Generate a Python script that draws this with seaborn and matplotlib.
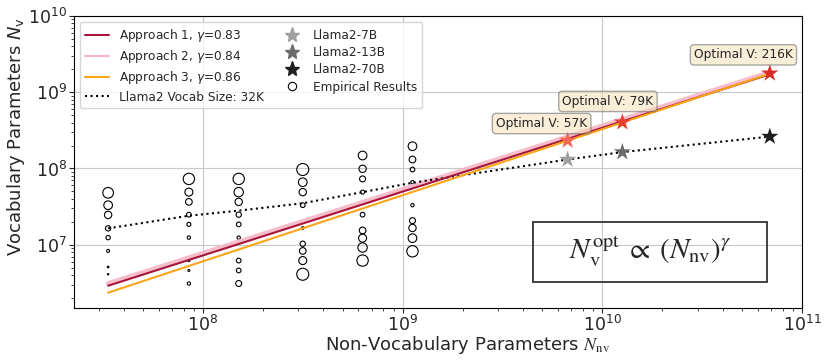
import numpy as np
import pandas as pd
import matplotlib
matplotlib.use("Agg")
import matplotlib.pyplot as plt
from matplotlib.lines import Line2D
from matplotlib.patches import Rectangle
import seaborn as sns

# ---------------- data ----------------
emp_cols_x = [3.35e7, 8.5e7, 1.51e8, 3.16e8, 6.3e8, 1.12e9]
emp_y_1 = [4.8e7, 3.3e7, 2.46e7, 1.64e7, 1.24e7, 8.3e6, 5.1e6, 4.1e6]
emp_r_1 = [16, 13, 11, 8, 6.5, 4.5, 2.5, 2]
emp_y_2 = [7.3e7, 4.9e7, 3.65e7, 2.48e7, 1.85e7, 1.24e7, 6.2e6, 4.6e6, 3.1e6]
emp_r_2 = [17, 12, 10, 7, 6, 5, 3, 3, 5]
emp_y_3 = [7.3e7, 4.9e7, 3.65e7, 2.48e7, 1.85e7, 1.24e7, 6.2e6, 4.6e6, 3.1e6]
emp_r_3 = [17, 14, 11, 8, 7, 5, 7, 7, 9]
emp_y_4 = [9.7e7, 6.6e7, 4.9e7, 3.3e7, 1.66e7, 1.03e7, 8.3e6, 6.2e6, 4.1e6]
emp_r_4 = [18, 13, 11, 7, 4, 8, 10, 12, 18]
emp_y_5 = [1.48e8, 9.9e7, 7.3e7, 4.9e7, 2.48e7, 1.54e7, 1.22e7, 9.2e6, 6.2e6]
emp_r_5 = [13, 11, 9, 6, 7, 10, 12, 14, 17]
emp_y_6 = [1.96e8, 1.31e8, 9.7e7, 6.6e7, 3.3e7, 2.07e7, 1.66e7, 1.22e7, 8.2e6]
emp_r_6 = [13, 10, 7, 5, 5, 9, 11, 13, 17]

fit_x = [3.35e7, 6.9e10]
approach1_y = [2.9e6, 1.72e9]
approach2_y = [3.1e6, 1.82e9]
approach3_y = [2.35e6, 1.75e9]
approach_labels = [r"Approach 1, $\gamma$=0.83", r"Approach 2, $\gamma$=0.84",
                   r"Approach 3, $\gamma$=0.86"]

llama_line_x = [3.35e7, 8.5e7, 1.51e8, 3.16e8, 6.3e8, 1.12e9, 6.7e9, 1.26e10, 6.9e10]
llama_line_y = [1.64e7, 2.4e7, 2.8e7, 3.5e7, 4.9e7, 6.5e7, 1.31e8, 1.64e8, 2.62e8]

model_names = ["Llama2-7B", "Llama2-13B", "Llama2-70B"]
model_x = [6.7e9, 1.26e10, 6.9e10]
llama_vocab_y = [1.31e8, 1.64e8, 2.62e8]
optimal_y = [2.33e8, 4.04e8, 1.77e9]
optimal_labels = ["Optimal V: 57K", "Optimal V: 79K", "Optimal V: 216K"]

# ---------------- style ----------------
sns.set_style("ticks")
plt.rcParams["font.family"] = ["DejaVu Sans"]

fig = plt.figure(figsize=(8.32, 3.64), dpi=100)
ax = fig.add_axes([74 / 832, 56 / 364, 728 / 832, 292 / 364])
ax.set_xscale("log")
ax.set_yscale("log")

c_a1 = "#a8153a"
c_a2 = "#f7b6c6"
c_a3 = "#f9a51a"
star_grays = ["#a0a0a0", "#6a6a6a", "#1e1e1e"]
star_reds = ["#f4684f", "#e8412f", "#dc2a2a"]

# empirical circles
cols_y = [emp_y_1, emp_y_2, emp_y_3, emp_y_4, emp_y_5, emp_y_6]
cols_r = [emp_r_1, emp_r_2, emp_r_3, emp_r_4, emp_r_5, emp_r_6]
rows = []
for cx, ys, rs in zip(emp_cols_x, cols_y, cols_r):
    for yv, rv in zip(ys, rs):
        rows.append({"x": cx, "y": yv, "r": rv})
emp = pd.DataFrame(rows)
sns.scatterplot(data=emp, x="x", y="y", s=0.23 * emp["r"] ** 2, marker="o",
                color="black", linewidth=0.8, ax=ax, zorder=3, legend=False)
coll = ax.collections[-1]
coll.set_facecolor("none")
coll.set_edgecolor("black")

# fit lines
sns.lineplot(x=fit_x, y=approach2_y, color=c_a2, lw=3.5, alpha=0.9, ax=ax, zorder=4)
sns.lineplot(x=fit_x, y=approach1_y, color=c_a1, lw=1.5, ax=ax, zorder=5)
sns.lineplot(x=fit_x, y=approach3_y, color=c_a3, lw=1.5, ax=ax, zorder=5)

# llama2 vocab line
sns.lineplot(x=llama_line_x, y=llama_line_y, color="black", lw=1.5,
             linestyle=":", ax=ax, zorder=4, sort=False)

# stars
sns.scatterplot(x=model_x, y=llama_vocab_y, marker="*", s=170,
                hue=model_names, palette=star_grays, linewidth=0,
                ax=ax, zorder=6, legend=False)
sns.scatterplot(x=model_x, y=optimal_y, marker="*", s=170,
                hue=optimal_labels, palette=star_reds, linewidth=0,
                ax=ax, zorder=6, legend=False)

offsets = [(-18.7, 12.2), (-10.4, 15.0), (-19.0, 13.3)]
for xv, yv, lab, off in zip(model_x, optimal_y, optimal_labels, offsets):
    ax.annotate(lab, xy=(xv, yv), xytext=off, textcoords="offset points",
                ha="center", va="center", fontsize=8.8, zorder=7,
                bbox=dict(boxstyle="round,pad=0.3", fc="wheat", ec="#555555",
                          alpha=0.5))

# formula box
ax.add_patch(Rectangle((0.6305, 0.089), 0.3214, 0.2055, transform=ax.transAxes,
                       fill=False, ec="#333333", lw=1.3, zorder=7))
ax.text(0.791, 0.192,
        r"$N_{\mathrm{v}}^{\mathrm{opt}}\;\propto\;(N_{\mathrm{nv}})^{\gamma}$",
        transform=ax.transAxes, ha="center", va="center", fontsize=21,
        math_fontfamily="stix", zorder=7)

ax.set_xlim(2.26e7, 1e11)
ax.set_ylim(1.48e6, 1e10)
ax.grid(True, which="major", color="#c8c8c8", lw=0.8)
ax.set_axisbelow(True)
for sp in ax.spines.values():
    sp.set_visible(True)
    sp.set_color("black")
    sp.set_linewidth(0.8)
ax.tick_params(which="major", labelsize=12.5, length=3.5, pad=1.5, direction="out")
ax.tick_params(which="minor", length=2, direction="out")

ax.set_xlabel(r"Non-Vocabulary Parameters $N_{\mathrm{nv}}$", fontsize=13,
              math_fontfamily="stix")
ax.set_ylabel(r"Vocabulary Parameters $N_{\mathrm{v}}$", fontsize=13)
ax.xaxis.set_label_coords(0.541, -0.09)
ax.yaxis.set_label_coords(-0.064, 0.586)

# legend
handles = [
    Line2D([], [], color=c_a1, lw=1.5),
    Line2D([], [], color=c_a2, lw=1.5),
    Line2D([], [], color=c_a3, lw=1.5),
    Line2D([], [], color="black", lw=1.5, linestyle=":"),
]
for c in star_grays:
    handles.append(Line2D([], [], color=c, marker="*", linestyle="none", markersize=11))
handles.append(Line2D([], [], color="black", marker="o", markerfacecolor="none",
                      linestyle="none", markersize=6, markeredgewidth=0.8))
labels = approach_labels + ["Llama2 Vocab Size: 32K"] + model_names + ["Empirical Results"]
ax.legend(handles, labels, loc="upper left", ncol=2, fontsize=8.7,
          frameon=True, framealpha=0.8, handlelength=2.0, labelspacing=0.35,
          columnspacing=1.3)

fig.savefig("out.png", dpi=100)
